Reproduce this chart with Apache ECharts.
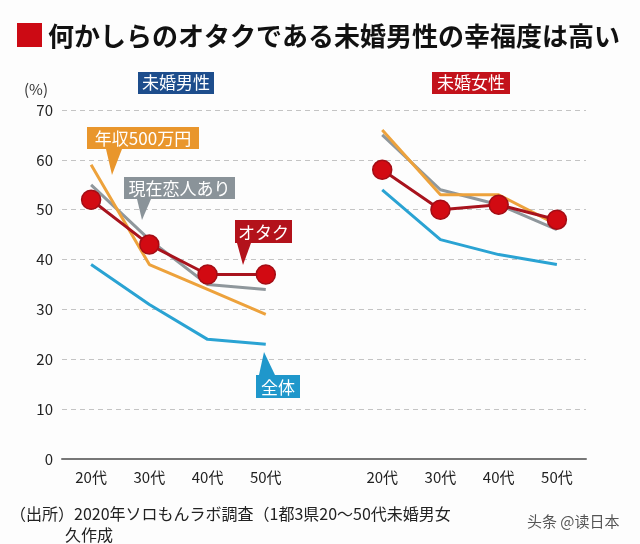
<!DOCTYPE html>
<html><head><meta charset="utf-8">
<script src="https://cdn.jsdelivr.net/npm/echarts@6/dist/echarts.min.js"></script>
<style>html,body{margin:0;padding:0;background:#fdfdfd}#c{width:640px;height:544px}</style>
</head><body><div id="c"></div>
<script>
const categories = ['20代','30代','40代','50代','','20代','30代','40代','50代'];
const yTicks = [0,10,20,30,40,50,60,70];
const otaku   = [52,43,37,37,null,58,50,51,48];
const income  = [59,39,34,29,null,66,53,53,47];
const partner = [55,44,35,34,null,65,54,51,46];
const total   = [39,31,24,23,null,54,44,41,39];

const FONT = '"Noto Sans CJK JP", "Noto Sans", sans-serif';
const chart = echarts.init(document.getElementById('c'), null, {renderer:'canvas'});

function callout(x, y, w, h, text, color, tip, base) {
  // tip: [x,y] pointer tip; base: [x1,x2,yb] base of pointer on box edge
  return [
    {type:'polygon', shape:{points:[[base[0],base[2]],[base[1],base[2]],tip]}, style:{fill:color}, z:100},
    {type:'rect', shape:{x:x,y:y,width:w,height:h}, style:{fill:color}, z:100},
    {type:'text', x:x+w/2, y:y+h/2+1, style:{text:text, fill:'#fff', font:'17px '+FONT, textAlign:'center', textVerticalAlign:'middle'}, z:101}
  ];
}

const lineBase = {type:'line', smooth:false, connectNulls:false, animation:false};

chart.setOption({
  backgroundColor:'#fdfdfd',
  animation:false,
  grid:{left:62, right:54, top:110, bottom:85, containLabel:false},
  xAxis:{
    type:'category', data:categories, boundaryGap:true,
    axisLine:{lineStyle:{color:'#777', width:2}},
    axisTick:{alignWithLabel:true, inside:true, length:9, lineStyle:{color:'#777', width:1.5},
      interval:0},
    axisLabel:{interval:0, color:'#222', fontSize:15, fontFamily:FONT, margin:11}
  },
  yAxis:{
    type:'value', min:0, max:70, interval:10,
    axisLine:{show:false}, axisTick:{show:false},
    axisLabel:{color:'#222', fontSize:15, fontFamily:FONT, margin:9,
      formatter:v => yTicks.includes(v) ? String(v) : ''},
    splitLine:{lineStyle:{color:'#c4c4c4', type:[5,4], width:1}}
  },
  series:[
    Object.assign({}, lineBase, {name:'全体', data:total, symbol:'none',
      lineStyle:{color:'#2aa3d3', width:3}, z:2}),
    Object.assign({}, lineBase, {name:'現在恋人あり', data:partner, symbol:'none',
      lineStyle:{color:'#8f979c', width:3}, z:3}),
    Object.assign({}, lineBase, {name:'年収500万円', data:income, symbol:'none',
      lineStyle:{color:'#eda23c', width:3}, z:4}),
    Object.assign({}, lineBase, {name:'オタク', data:otaku, symbol:'circle', symbolSize:19,
      lineStyle:{color:'#a8131d', width:3},
      itemStyle:{color:'#d20a12', borderColor:'#a30d15', borderWidth:1.5}, z:5})
  ],
  graphic:[
    {type:'rect', shape:{x:17,y:23,width:25,height:24}, style:{fill:'#cc0a14'}},
    {type:'text', x:48, y:36, style:{text:'何かしらのオタクである未婚男性の幸福度は高い', fill:'#111',
      font:'bold 26px '+FONT, textVerticalAlign:'middle'}},
    {type:'rect', shape:{x:138,y:72,width:76,height:22}, style:{fill:'#1d4d8c'}},
    {type:'text', x:176, y:83, style:{text:'未婚男性', fill:'#fff', font:'17px '+FONT, textAlign:'center', textVerticalAlign:'middle'}},
    {type:'rect', shape:{x:432,y:72,width:78,height:22}, style:{fill:'#c3121b'}},
    {type:'text', x:471, y:83, style:{text:'未婚女性', fill:'#fff', font:'17px '+FONT, textAlign:'center', textVerticalAlign:'middle'}},
    {type:'text', x:24, y:89, style:{text:'(%)', fill:'#333', font:'15px '+FONT, textVerticalAlign:'middle'}},
    ...callout(87,127,112,22,'年収500万円','#e9962c',[112,175],[106,122,149]),
    ...callout(124,177,111,22,'現在恋人あり','#8a9399',[142,220],[137,151,199]),
    ...callout(235,220,57,23,'オタク','#b3121b',[243,265],[237,251,243]),
    ...callout(256,375,44,23,'全体','#1f97cb',[264,352],[259,275,375]),
    {type:'text', x:10, y:514, style:{text:'（出所）2020年ソロもんラボ調査（1都3県20～50代未婚男女', fill:'#222', font:'16px '+FONT, textVerticalAlign:'middle'}},
    {type:'text', x:65, y:535, style:{text:'久作成', fill:'#222', font:'16px '+FONT, textVerticalAlign:'middle'}},
    {type:'text', x:527, y:521, style:{text:'头条 @读日本', fill:'#555', font:'15px "Noto Sans CJK SC", sans-serif', textVerticalAlign:'middle'}}
  ]
});
</script></body></html>
